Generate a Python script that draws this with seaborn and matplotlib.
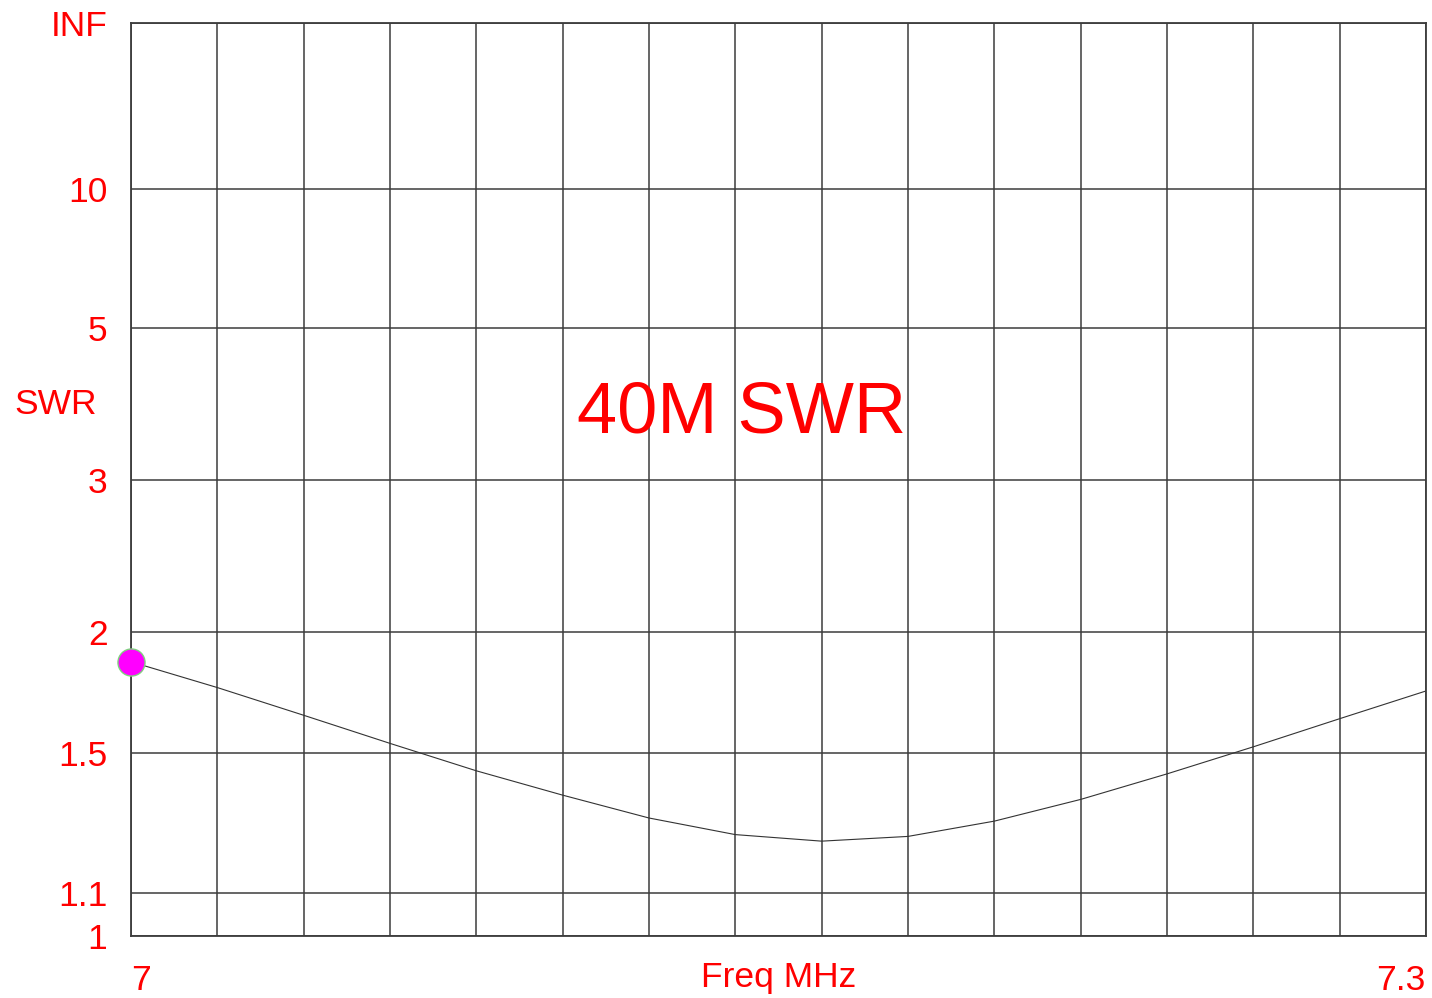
import numpy as np
import pandas as pd
import matplotlib
matplotlib.use("Agg")
import matplotlib.pyplot as plt
import seaborn as sns

# SWR readings, 7.00 - 7.30 MHz in 20 kHz steps
freq = [7.00, 7.02, 7.04, 7.06, 7.08, 7.10, 7.12, 7.14,
        7.16, 7.18, 7.20, 7.22, 7.24, 7.26, 7.28, 7.30]
swr = [1.859, 1.748, 1.638, 1.535, 1.442, 1.365, 1.297, 1.250,
       1.232, 1.245, 1.288, 1.352, 1.432, 1.523, 1.625, 1.734]

swr_ticks = [1, 1.1, 1.5, 2, 3, 5, 10]
swr_tick_labels = ["1", "1.1", "1.5", "2", "3", "5", "10", "INF"]


def to_rho(s):
    # the chart axis is linear in reflection coefficient
    s = np.asarray(s, dtype=float)
    return (s - 1) / (s + 1)


df = pd.DataFrame({"freq": freq, "rho": to_rho(swr)})

sns.set_style("white")
plt.rcParams["font.family"] = ["Liberation Sans", "DejaVu Sans"]

fig = plt.figure(figsize=(14.32, 9.98), dpi=100)
ax = fig.add_axes([0.0915, 0.0621, 0.9043, 0.9146])

red = "#ff0000"
fs = 25.5

sns.lineplot(data=df, x="freq", y="rho", ax=ax, color="#333333", linewidth=0.8)
sns.scatterplot(data=df.iloc[[0]], x="freq", y="rho", ax=ax, color="#ff00ff",
                s=380, edgecolor="#80d080", linewidth=1, zorder=5, clip_on=False)

ax.set_xlim(7.0, 7.3)
ax.set_ylim(0, 1)

xt = np.round(np.arange(7.0, 7.3001, 0.02), 2)
ax.set_xticks(xt)
ax.set_xticklabels(["7"] + [""] * (len(xt) - 2) + ["7.3"])
ytv = list(to_rho(swr_ticks)) + [1.0]
ax.set_yticks(ytv)
ax.set_yticklabels(swr_tick_labels)

ax.grid(True, color="#3c3c3c", linewidth=1.1)
ax.tick_params(axis="both", length=0, labelcolor=red, labelsize=fs)
ax.tick_params(axis="y", pad=17)
ax.tick_params(axis="x", pad=20)
labs = ax.get_xticklabels()
labs[0].set_ha("left")
labs[-1].set_ha("right")

for sp in ax.spines.values():
    sp.set_color("#3c3c3c")
    sp.set_linewidth(1.3)

ax.set_xlabel("")
ax.set_ylabel("")
ax.text(0.5, -0.0455, "Freq MHz", transform=ax.transAxes, ha="center", va="center",
        color=red, fontsize=fs)
fig.text(14 / 1432, 1 - 404 / 998, "SWR", ha="left", va="center", color=red, fontsize=fs)
ax.text(0.4714, 0.572, "40M SWR", transform=ax.transAxes, ha="center", va="center",
        color=red, fontsize=52)

fig.savefig("out.png", dpi=100)
